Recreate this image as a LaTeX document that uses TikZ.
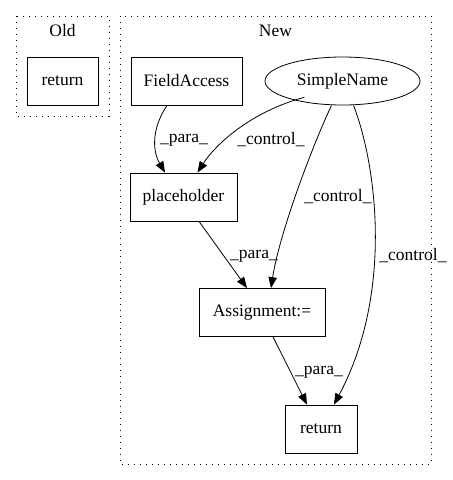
\documentclass[tikz,border=0pt]{standalone}
\usepackage{fontspec}
\setmainfont{Liberation Serif}
\usetikzlibrary{arrows.meta,shapes.geometric}
\begin{document}
\begin{tikzpicture}[x=1pt,y=-1pt,
  every node/.style={font=\fontsize{17.5}{20}\selectfont},
  box/.style={draw,thick,minimum height=48pt,inner sep=0pt},
  cluster/.style={draw,thick,dash pattern=on 1.2pt off 4.8pt},
  edge/.style={thick,-{Triangle[length=11pt,width=8.5pt]}},
  lbl/.style={inner sep=1pt}]
\useasboundingbox (0,0) rectangle (453,480);
\draw[cluster] (16,16) rectangle (109,116);
\draw[cluster] (120,16) rectangle (431,464);
\node (oldt) at (62.5,31) {Old};
\node (newt) at (275.5,31) {New};
\node[box,minimum width=71pt] (oret) at (62.5,81) {return};
\node[box,minimum width=111pt] (fa) at (186.5,81) {FieldAccess};
\node[draw,thick,ellipse,minimum width=155pt,minimum height=48pt,inner sep=0pt] (sn) at (342.5,81) {SimpleName};
\node[box,minimum width=107pt] (ph) at (183.5,197) {placeholder};
\node[box,minimum width=126pt] (as) at (262,312.5) {Assignment:=};
\node[box,minimum width=72pt] (ret) at (321,429) {return};
\draw[edge] ([xshift=-19.5pt]fa.south) .. controls (152,128) and (152,150) .. ([xshift=-18.5pt]ph.north);
\node[lbl] at (184,140) {\_para\_};
\draw[edge] (sn.south west) ++(17pt,1pt) .. controls (250,112) and (215,145) .. ([xshift=14pt]ph.north);
\node[lbl] at (271,140) {\_control\_};
\draw[edge] ([xshift=-11pt]sn.south) .. controls (315,140) and (280,230) .. ([xshift=9pt]as.north);
\node[lbl] at (338,197) {\_control\_};
\draw[edge] ([xshift=11pt]sn.south) .. controls (375,160) and (395,290) .. ([xshift=13pt]ret.north);
\node[lbl] at (413,256) {\_control\_};
\draw[edge] ([xshift=15.5pt]ph.south) -- ([xshift=-15pt]as.north);
\node[lbl] at (254,256) {\_para\_};
\draw[edge] ([xshift=11pt]as.south) -- ([xshift=-14pt]ret.north);
\node[lbl] at (319,372) {\_para\_};
\end{tikzpicture}
\end{document}
